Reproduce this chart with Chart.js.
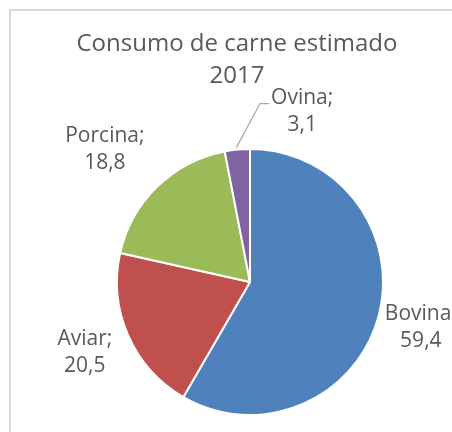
<!DOCTYPE html>
<html>
<head>
<meta charset="utf-8">
<script src="https://cdn.jsdelivr.net/npm/chart.js@4/dist/chart.umd.min.js"></script>
<style>
  body { margin: 0; background: #fff; overflow: hidden; width: 452px; height: 432px; position: relative; }
  #frame { position: absolute; left: 9px; top: 9px; width: 700px; height: 700px; border: 2px solid #d9d9d9; }
  #wrap { position: absolute; left: 0; top: 0; width: 452px; height: 432px; }
</style>
</head>
<body>
<div id="frame"></div>
<div id="wrap"><canvas id="myChart" width="452" height="432"></canvas></div>
<script>
let titleLines = ["Consumo de carne estimado", "2017"];
let categories = ["Bovina", "Aviar", "Porcina", "Ovina"];
let values = [59.4, 20.5, 18.8, 3.1];
let sliceColors = ["#4F81BD", "#C0504D", "#9BBB59", "#8064A2"];

// label placement: distance (x radius) and angle shift (deg) from slice middle
let labelDist = [1.33, 1.35, 1.48, 1.34];
let labelShift = [0, 0.6, -3.3, 22.5];
let leaderLine = [false, false, false, true];

let textColor = "#595959";

let labelPlugin = {
  id: "labels",
  afterDraw(chart) {
    let ctx = chart.ctx;
    let meta = chart.getDatasetMeta(0);
    ctx.save();
    ctx.fillStyle = textColor;
    ctx.textAlign = "center";
    ctx.textBaseline = "middle";

    // title
    ctx.font = "24px 'Open Sans'";
    ctx.fillText(titleLines[0], 237, 44);
    ctx.fillText(titleLines[1], 237, 76);

    ctx.font = "21px 'Open Sans'";
    meta.data.forEach(function (arc, i) {
      let p = arc.getProps(["x", "y", "startAngle", "endAngle", "outerRadius"], true);
      let mid = (p.startAngle + p.endAngle) / 2;
      let a = mid + labelShift[i] * Math.PI / 180;
      let r = p.outerRadius * labelDist[i];
      let lx = p.x + Math.cos(a) * r;
      let ly = p.y + Math.sin(a) * r;
      let line1 = categories[i] + ";";
      let line2 = values[i].toFixed(1).replace(".", ",");
      ctx.fillText(line1, lx, ly - 13.5);
      ctx.fillText(line2, lx, ly + 13.5);

      if (leaderLine[i]) {
        let w = ctx.measureText(line1).width;
        let ex = p.x + Math.cos(mid) * p.outerRadius;
        let ey = p.y + Math.sin(mid) * p.outerRadius;
        let tx = lx - w / 2 - 2;
        let ty = ly - 8;
        ctx.strokeStyle = "#a6a6a6";
        ctx.lineWidth = 1.2;
        ctx.beginPath();
        ctx.moveTo(ex - 1, ey - 2);
        ctx.lineTo(tx - 9, ty);
        ctx.lineTo(tx, ty);
        ctx.stroke();
      }
    });
    ctx.restore();
  }
};

new Chart("myChart", {
  type: "pie",
  data: {
    labels: categories,
    datasets: [{
      data: values,
      backgroundColor: sliceColors,
      borderColor: "#ffffff",
      borderWidth: 2
    }]
  },
  options: {
    responsive: false,
    animation: false,
    layout: { padding: { left: 116, right: 68, top: 148, bottom: 16 } },
    plugins: {
      legend: { display: false },
      tooltip: { enabled: false },
      title: { display: false }
    }
  },
  plugins: [labelPlugin]
});
</script>
</body>
</html>
